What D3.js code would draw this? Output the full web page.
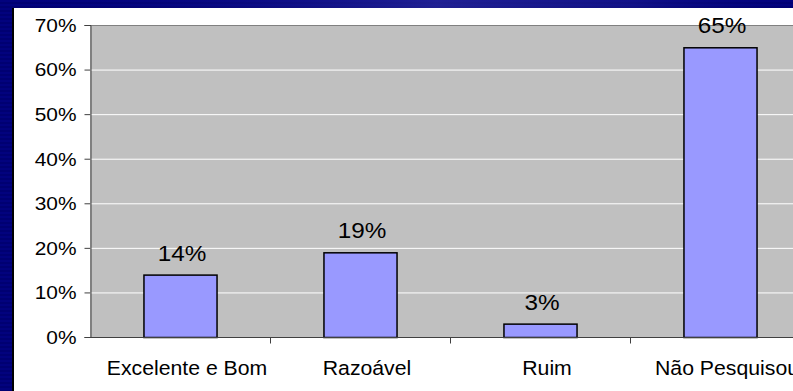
<!DOCTYPE html>
<html>
<head>
<meta charset="utf-8">
<script src="https://cdn.jsdelivr.net/npm/d3@7"></script>
<style>
  html, body { margin: 0; padding: 0; background: #000080; }
  svg { display: block; }
  text { font-family: "Liberation Sans", Arial, sans-serif; fill: #000; }
</style>
</head>
<body>
<svg id="chart" width="793" height="391"></svg>
<script>
// Survey answers and their shares (%)
const categories = ["Excelente e Bom", "Razoável", "Ruim", "Não Pesquisou"];
const values = [14, 19, 3, 65];
const yTicks = [0, 10, 20, 30, 40, 50, 60, 70];

const W = 793, H = 391;
const svg = d3.select("#chart");
const defs = svg.append("defs");

// Slide background: navy with fine horizontal banding
const stripes = defs.append("pattern")
  .attr("id", "bands").attr("patternUnits", "userSpaceOnUse")
  .attr("width", 8).attr("height", 4);
stripes.append("rect").attr("width", 8).attr("height", 4).attr("fill", "#02027e");
stripes.append("rect").attr("y", 2).attr("width", 8).attr("height", 2).attr("fill", "#000072");

const sheen = defs.append("linearGradient")
  .attr("id", "sheen").attr("x1", "0").attr("x2", "1").attr("y1", "0").attr("y2", "0");
sheen.append("stop").attr("offset", "0").attr("stop-color", "#000080").attr("stop-opacity", 0);
sheen.append("stop").attr("offset", "0.55").attr("stop-color", "#3a3aa8").attr("stop-opacity", 0.55);
sheen.append("stop").attr("offset", "0.8").attr("stop-color", "#2a2a9a").attr("stop-opacity", 0.4);
sheen.append("stop").attr("offset", "1").attr("stop-color", "#000080").attr("stop-opacity", 0.1);

svg.append("rect").attr("width", W).attr("height", H).attr("fill", "url(#bands)");
svg.append("rect").attr("width", W).attr("height", 8).attr("fill", "url(#sheen)");

// White chart panel with dark left rule
svg.append("rect").attr("x", 12).attr("y", 8).attr("width", 2).attr("height", H - 8).attr("fill", "#000");
svg.append("rect").attr("x", 14).attr("y", 8).attr("width", W - 14).attr("height", H - 8).attr("fill", "#fff");

// Plot area (runs past the right edge of the panel)
const plot = { left: 90, top: 25, right: 810, bottom: 337 };

const x = d3.scaleBand()
  .domain(categories)
  .range([plot.left, plot.right])
  .paddingInner(0.594)
  .paddingOuter(0.297);

const y = d3.scaleLinear()
  .domain([0, 70])
  .range([plot.bottom, plot.top]);

svg.append("rect")
  .attr("x", plot.left).attr("y", plot.top)
  .attr("width", plot.right - plot.left).attr("height", plot.bottom - plot.top)
  .attr("fill", "#c0c0c0");

// Horizontal gridlines
svg.append("g").selectAll("line")
  .data(yTicks.filter(t => t > 0 && t < 70))
  .join("line")
  .attr("x1", plot.left).attr("x2", plot.right)
  .attr("y1", d => y(d) + 0.5).attr("y2", d => y(d) + 0.5)
  .attr("stroke", "#ffffff").attr("stroke-width", 1);

svg.append("line")
  .attr("x1", plot.left).attr("x2", plot.right)
  .attr("y1", plot.top + 0.5).attr("y2", plot.top + 0.5)
  .attr("stroke", "#808080");

// Bars
svg.append("g").selectAll("rect")
  .data(values)
  .join("rect")
  .attr("x", (d, i) => x(categories[i]) + 0.5)
  .attr("y", d => y(d) + 0.5)
  .attr("width", x.bandwidth())
  .attr("height", d => y(0) - y(d))
  .attr("fill", "#9999ff")
  .attr("stroke", "#000").attr("stroke-width", 1.5);

// Y axis
const yAxis = svg.append("g")
  .attr("transform", `translate(${plot.left + 0.5},0)`)
  .call(d3.axisLeft(y).tickValues(yTicks).tickSize(6).tickPadding(8)
    .tickFormat(d => d + "%"));
yAxis.select(".domain").attr("stroke", "#404040");
yAxis.selectAll(".tick line").attr("stroke", "#404040");
yAxis.selectAll(".tick text")
  .style("font-size", "18.5px")
  .attr("dy", "0.34em")
  .each(function () {
    const t = d3.select(this);
    const tx = +t.attr("x");
    t.attr("x", 0).attr("transform", `translate(${tx},0) scale(1.13,1)`);
  });

// X axis with ticks on category boundaries
const xAxis = svg.append("g").attr("transform", `translate(0,${plot.bottom + 0.5})`);
xAxis.append("line")
  .attr("x1", plot.left).attr("x2", plot.right)
  .attr("stroke", "#404040");
xAxis.selectAll("line.tk")
  .data(categories.slice(0, -1).map(c => x(c) + x.bandwidth() / 2 + x.step() / 2))
  .join("line").attr("class", "tk")
  .attr("x1", d => Math.round(d) + 0.5).attr("x2", d => Math.round(d) + 0.5)
  .attr("y1", 0).attr("y2", 6)
  .attr("stroke", "#404040");

xAxis.selectAll("text")
  .data(categories)
  .join("text")
  .attr("text-anchor", "middle")
  .attr("transform", d => `translate(${x(d) + x.bandwidth() / 2 + 7},${374 - plot.bottom}) scale(1.09,1)`)
  .style("font-size", "19.5px")
  .text(d => d);

// Value labels above bars
svg.append("g").selectAll("text")
  .data(values)
  .join("text")
  .attr("text-anchor", "middle")
  .attr("transform", (d, i) => `translate(${x(categories[i]) + x.bandwidth() / 2 + 2},${y(d) - 14}) scale(1.08,1)`)
  .style("font-size", "22.5px")
  .text(d => d + "%");
</script>
</body>
</html>
